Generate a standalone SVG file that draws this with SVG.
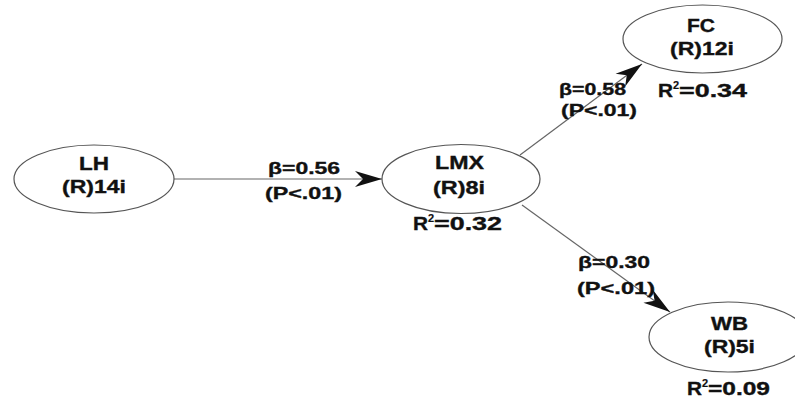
<svg xmlns="http://www.w3.org/2000/svg" width="795" height="403" viewBox="0 0 795 403">
<style>
.node{fill:#fff;stroke:#555;stroke-width:1.2}
.edge{stroke:#666;stroke-width:1.2;fill:none}
text{font-family:"Liberation Sans",Arial,sans-serif;font-weight:bold;fill:#111;stroke:#111;stroke-width:0.35}
.nt{font-size:18px}
.el{font-size:17px}
.sup{font-size:11px;stroke-width:0.2}
</style>
<defs>
<marker id="arr" markerUnits="userSpaceOnUse" markerWidth="30" markerHeight="20" viewBox="-28 -10 30 20" refX="0" refY="0" orient="auto">
<path d="M0,0 L-27,-8 L-19,0 L-27,8 Z" fill="#111"/>
</marker>
</defs>
<rect width="795" height="403" fill="#fff"/>
<g id="connectors">
<line class="edge" x1="173" y1="179" x2="382" y2="179" marker-end="url(#arr)"/>
<line class="edge" x1="520" y1="155" x2="642" y2="64" marker-end="url(#arr)"/>
<line class="edge" x1="522" y1="205" x2="670" y2="312" marker-end="url(#arr)"/>
<text class="el" x="268" y="174" textLength="72" lengthAdjust="spacingAndGlyphs">β=0.56</text>
<text class="el" x="265" y="199" textLength="77" lengthAdjust="spacingAndGlyphs">(P&lt;.01)</text>
<text class="el" x="559" y="95" textLength="67" lengthAdjust="spacingAndGlyphs">β=0.58</text>
<text class="el" x="561" y="116" textLength="76" lengthAdjust="spacingAndGlyphs">(P&lt;.01)</text>
<text class="el" x="578" y="268" textLength="72" lengthAdjust="spacingAndGlyphs">β=0.30</text>
<text class="el" x="577" y="294" textLength="78" lengthAdjust="spacingAndGlyphs">(P&lt;.01)</text>
</g>
<g id="LH">
<ellipse class="node" cx="94" cy="179" rx="80" ry="34"/>
<text class="nt" x="79" y="170" textLength="30" lengthAdjust="spacingAndGlyphs">LH</text>
<text class="nt" x="62" y="193" textLength="64" lengthAdjust="spacingAndGlyphs">(R)14i</text>
</g>
<g id="LMX">
<ellipse class="node" cx="461" cy="179" rx="79" ry="34.5"/>
<text class="nt" x="435" y="169" textLength="49" lengthAdjust="spacingAndGlyphs">LMX</text>
<text class="nt" x="433" y="194" textLength="52" lengthAdjust="spacingAndGlyphs">(R)8i</text>
<text class="nt" x="413" y="230" textLength="15" lengthAdjust="spacingAndGlyphs">R</text>
<text class="sup" x="428" y="222">2</text>
<text class="nt" x="434" y="230" textLength="68" lengthAdjust="spacingAndGlyphs">=0.32</text>
</g>
<g id="FC">
<ellipse class="node" cx="702.5" cy="39" rx="79.5" ry="34"/>
<text class="nt" x="687" y="32" textLength="28" lengthAdjust="spacingAndGlyphs">FC</text>
<text class="nt" x="670" y="55" textLength="64" lengthAdjust="spacingAndGlyphs">(R)12i</text>
<text class="nt" x="658" y="97" textLength="15" lengthAdjust="spacingAndGlyphs">R</text>
<text class="sup" x="673" y="89">2</text>
<text class="nt" x="679" y="97" textLength="68" lengthAdjust="spacingAndGlyphs">=0.34</text>
</g>
<g id="WB">
<ellipse class="node" cx="728" cy="337" rx="79" ry="35"/>
<text class="nt" x="711" y="330" textLength="37" lengthAdjust="spacingAndGlyphs">WB</text>
<text class="nt" x="704" y="353" textLength="51" lengthAdjust="spacingAndGlyphs">(R)5i</text>
<text class="nt" x="687" y="395" textLength="15" lengthAdjust="spacingAndGlyphs">R</text>
<text class="sup" x="702" y="387">2</text>
<text class="nt" x="708" y="395" textLength="62" lengthAdjust="spacingAndGlyphs">=0.09</text>
</g>
</svg>
